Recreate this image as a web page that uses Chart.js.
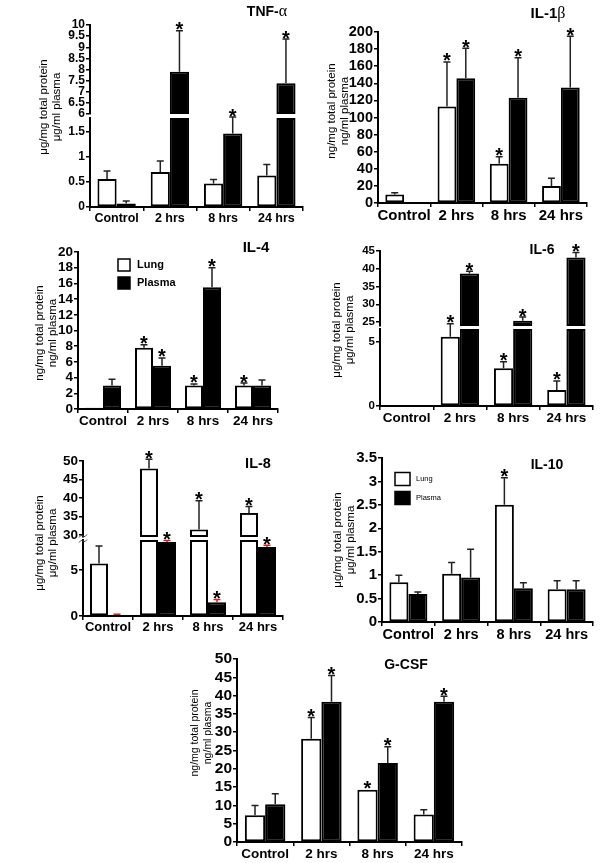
<!DOCTYPE html>
<html>
<head>
<meta charset="utf-8">
<script src="https://cdn.jsdelivr.net/npm/chart.js@4.4.1/dist/chart.umd.min.js"></script>
<style>
  body { margin: 0; background: #fff; }
  #page { position: relative; width: 600px; height: 863px; background: #fff; }
  #page canvas { position: absolute; left: 0; top: 0; }
</style>
</head>
<body>
<div id="page"></div>
<script>
const categories = ['Control', '2 hrs', '8 hrs', '24 hrs'];
const seriesNames = ['Lung', 'Plasma'];

// TNF-alpha (broken axis)
const tnfLung = [0.56, 0.70, 0.47, 0.63];
const tnfLungErr = [0.72, 0.92, 0.55, 0.85];
const tnfPlasma = [0.07, 7.9, 1.47, 7.38];
const tnfPlasmaErr = [0.12, 9.74, 1.8, 9.37];
const tnfLungStar = [0, 0, 0, 0];
const tnfPlasmaStar = [0, 1, 1, 1];
const tnfUpperRange = [6, 10];
const tnfUpperTicks = [6, 6.5, 7, 7.5, 8, 8.5, 9, 9.5, 10];
const tnfLowerRange = [0, 1.78];
const tnfLowerTicks = [0, 0.5, 1, 1.5];

// IL-1beta
const il1Lung = [10, 113, 46, 20];
const il1LungErr = [12, 165, 54, 29];
const il1Plasma = [0, 146, 123, 135];
const il1PlasmaErr = [null, 181, 170, 195];
const il1LungStar = [0, 1, 1, 0];
const il1PlasmaStar = [0, 1, 1, 1];
const il1Range = [0, 200];
const il1Ticks = [0, 20, 40, 60, 80, 100, 120, 140, 160, 180, 200];

// IL-4
const il4Lung = [0.15, 7.8, 3.0, 3.0];
const il4LungErr = [null, 8.2, 3.2, 3.3];
const il4Plasma = [3.0, 5.5, 15.5, 3.0];
const il4PlasmaErr = [3.8, 6.5, 18.0, 3.7];
const il4LungStar = [0, 1, 1, 1];
const il4PlasmaStar = [0, 1, 1, 0];
const il4Range = [0, 20];
const il4Ticks = [0, 2, 4, 6, 8, 10, 12, 14, 16, 18, 20];

// IL-6 (broken axis)
const il6Lung = [0, 5.4, 2.95, 1.25];
const il6LungErr = [null, 6.4, 3.45, 1.95];
const il6Plasma = [0, 38.7, 25.4, 43.2];
const il6PlasmaErr = [null, 39.3, 26.4, 44.6];
const il6LungStar = [0, 1, 1, 1];
const il6PlasmaStar = [0, 1, 1, 1];
const il6UpperRange = [23.9, 45];
const il6UpperTicks = [25, 30, 35, 40, 45];
const il6LowerRange = [0, 6];
const il6LowerTicks = [0, 5];

// IL-8 (broken axis)
const il8Lung = [5.7, 48, 31.5, 36];
const il8LungErr = [7.6, 50.5, 39.3, 37.7];
const il8Plasma = [0.1, 8.05, 1.5, 7.5];
const il8PlasmaErr = [0.2, 8.2, 1.8, 7.7];
const il8LungStar = [0, 1, 1, 1];
const il8PlasmaStar = [0, 1, 1, 1];
const il8UpperRange = [29.5, 50];
const il8UpperTicks = [30, 35, 40, 45, 50];
const il8LowerRange = [0, 8.26];
const il8LowerTicks = [0, 5];

// IL-10
const il10Lung = [0.85, 1.03, 2.5, 0.7];
const il10LungErr = [1.0, 1.27, 3.08, 0.88];
const il10Plasma = [0.6, 0.95, 0.72, 0.7];
const il10PlasmaErr = [0.64, 1.55, 0.84, 0.88];
const il10LungStar = [0, 0, 1, 0];
const il10PlasmaStar = [0, 0, 0, 0];
const il10Range = [0, 3.5];
const il10Ticks = [0, 0.5, 1, 1.5, 2, 2.5, 3, 3.5];

// G-CSF
const gcsfLung = [7.3, 28.2, 14.3, 7.5];
const gcsfLungErr = [10, 34, null, 8.8];
const gcsfPlasma = [10.3, 38.3, 21.6, 38.3];
const gcsfPlasmaErr = [13.2, 45.5, 26, 39.8];
const gcsfLungStar = [0, 1, 1, 0];
const gcsfPlasmaStar = [0, 1, 1, 1];
const gcsfRange = [0, 50];
const gcsfTicks = [0, 5, 10, 15, 20, 25, 30, 35, 40, 45, 50];

const FONT = "'Liberation Sans', Arial, Helvetica, sans-serif";
const SERIF = "'Liberation Serif', 'DejaVu Serif', serif";
const ugLabel = ['\u03bcg/mg total protein', '\u03bcg/ml plasma'];
const ngLabel = ['ng/mg total protein', 'ng/ml plasma'];

const panels = [
  { lung: tnfLung, lungErr: tnfLungErr, plasma: tnfPlasma, plasmaErr: tnfPlasmaErr, lungStar: tnfLungStar, plasmaStar: tnfPlasmaStar,
    segments: [
      { kind: 'upper', range: tnfUpperRange, ticks: tnfUpperTicks, top: 25, bottom: 114 },
      { kind: 'lower', range: tnfLowerRange, ticks: tnfLowerTicks, top: 118, bottom: 207 }
    ],
    axisX: 90, right: 303, tickSize: 12, xSize: 12.5,
    title: [{ text: 'TNF-', font: 'bold 14px ' + FONT }, { text: '\u03b1', font: '16px ' + SERIF }], titleAt: [267, 12],
    ylabel: ugLabel, ylabelAt: [50, 107], ylabelFont: '11.5px ' + FONT },

  { lung: il1Lung, lungErr: il1LungErr, plasma: il1Plasma, plasmaErr: il1PlasmaErr, lungStar: il1LungStar, plasmaStar: il1PlasmaStar,
    segments: [{ kind: 'full', range: il1Range, ticks: il1Ticks, top: 32, bottom: 203 }],
    axisX: 378, right: 587, tickSize: 14.5, xSize: 15,
    title: [{ text: 'IL-1', font: 'bold 15px ' + FONT }, { text: '\u03b2', font: '16px ' + SERIF }], titleAt: [548, 14],
    ylabel: ngLabel, ylabelAt: [338, 111], ylabelFont: '11.5px ' + FONT },

  { lung: il4Lung, lungErr: il4LungErr, plasma: il4Plasma, plasmaErr: il4PlasmaErr, lungStar: il4LungStar, plasmaStar: il4PlasmaStar,
    segments: [{ kind: 'full', range: il4Range, ticks: il4Ticks, top: 252, bottom: 409 }],
    axisX: 78, right: 278, tickSize: 13.5, xSize: 13.5,
    title: [{ text: 'IL-4', font: 'bold 15px ' + FONT }], titleAt: [256, 248],
    ylabel: ngLabel, ylabelAt: [46, 333], ylabelFont: '11.5px ' + FONT,
    legend: { x: 118, y: [265, 283], w: 12, h: 12, gap: 7, font: 'bold 11px ' + FONT } },

  { lung: il6Lung, lungErr: il6LungErr, plasma: il6Plasma, plasmaErr: il6PlasmaErr, lungStar: il6LungStar, plasmaStar: il6PlasmaStar,
    segments: [
      { kind: 'upper', range: il6UpperRange, ticks: il6UpperTicks, top: 251, bottom: 326 },
      { kind: 'lower', range: il6LowerRange, ticks: il6LowerTicks, top: 329, bottom: 406 }
    ],
    axisX: 380, right: 593, tickSize: 11.5, xSize: 13.5,
    title: [{ text: 'IL-6', font: 'bold 14px ' + FONT }], titleAt: [542, 250],
    ylabel: ugLabel, ylabelAt: [343, 330], ylabelFont: '11.5px ' + FONT },

  { lung: il8Lung, lungErr: il8LungErr, plasma: il8Plasma, plasmaErr: il8PlasmaErr, lungStar: il8LungStar, plasmaStar: il8PlasmaStar,
    plasmaErrColor: '#d62020',
    segments: [
      { kind: 'upper', range: il8UpperRange, ticks: il8UpperTicks, top: 461, bottom: 537 },
      { kind: 'lower', range: il8LowerRange, ticks: il8LowerTicks, top: 540, bottom: 616 }
    ],
    axisX: 83, right: 283, tickSize: 13.5, xSize: 13,
    title: [{ text: 'IL-8', font: 'bold 14.5px ' + FONT }], titleAt: [258, 464],
    ylabel: ugLabel, ylabelAt: [46, 543], ylabelFont: '11.5px ' + FONT,
    breakMark: [83, 538.5] },

  { lung: il10Lung, lungErr: il10LungErr, plasma: il10Plasma, plasmaErr: il10PlasmaErr, lungStar: il10LungStar, plasmaStar: il10PlasmaStar,
    segments: [{ kind: 'full', range: il10Range, ticks: il10Ticks, top: 458, bottom: 622 }],
    axisX: 382, right: 593, tickSize: 15, xSize: 14.5,
    title: [{ text: 'IL-10', font: 'bold 14px ' + FONT }], titleAt: [547, 465],
    ylabel: ugLabel, ylabelAt: [344, 540], ylabelFont: '11.5px ' + FONT,
    legend: { x: 395, y: [479, 498], w: 15, h: 13, gap: 6, font: '7.5px ' + FONT } },

  { lung: gcsfLung, lungErr: gcsfLungErr, plasma: gcsfPlasma, plasmaErr: gcsfPlasmaErr, lungStar: gcsfLungStar, plasmaStar: gcsfPlasmaStar,
    segments: [{ kind: 'full', range: gcsfRange, ticks: gcsfTicks, top: 659, bottom: 842 }],
    axisX: 237, right: 462, tickSize: 15.5, xSize: 13.5,
    title: [{ text: 'G-CSF', font: 'bold 14px ' + FONT }], titleAt: [406, 665],
    ylabel: ngLabel, ylabelAt: [202, 733], ylabelFont: '10.5px ' + FONT }
];

// bar values for one axis segment (broken axes are split into two charts)
function segData(vals, seg) {
  return vals.map(v => {
    if (seg.kind === 'upper') return v > seg.range[0] ? [seg.range[0], v] : null;
    if (seg.kind === 'lower') return Math.min(v, seg.range[1]);
    return v;
  });
}

// error whiskers + significance stars
const errorBars = {
  id: 'errorBars',
  afterDatasetsDraw(chart) {
    const ctx = chart.ctx;
    const y = chart.scales.y;
    chart.data.datasets.forEach((ds, i) => {
      chart.getDatasetMeta(i).data.forEach((bar, j) => {
        const v = ds.values[j];
        if (v == null || v < y.min || v > y.max) return;
        let top = y.getPixelForValue(v);
        const e = ds.errors[j];
        ctx.save();
        if (e != null && e > v) {
          const ey = y.getPixelForValue(e);
          ctx.strokeStyle = ds.errColor;
          ctx.lineWidth = 1.5;
          ctx.beginPath();
          ctx.moveTo(bar.x, top);
          ctx.lineTo(bar.x, ey);
          ctx.moveTo(bar.x - 3.5, ey);
          ctx.lineTo(bar.x + 3.5, ey);
          ctx.stroke();
          top = ey;
        }
        if (ds.stars[j]) {
          ctx.fillStyle = '#000';
          ctx.font = 'bold 20px ' + FONT;
          ctx.textAlign = 'center';
          ctx.textBaseline = 'alphabetic';
          ctx.fillText('*', bar.x, top + 5.5);
        }
        ctx.restore();
      });
    });
  }
};

// panel title, y label, legend and axis break mark
function decoPlugin(p) {
  return {
    id: 'deco',
    afterDraw(chart) {
      const ctx = chart.ctx;
      ctx.save();
      ctx.fillStyle = '#000';
      ctx.textBaseline = 'middle';
      ctx.textAlign = 'left';
      let w = 0;
      p.title.forEach(t => { ctx.font = t.font; w += ctx.measureText(t.text).width; });
      let x = p.titleAt[0] - w / 2;
      p.title.forEach(t => {
        ctx.font = t.font;
        ctx.fillText(t.text, x, p.titleAt[1]);
        x += ctx.measureText(t.text).width;
      });

      ctx.save();
      ctx.translate(p.ylabelAt[0], p.ylabelAt[1]);
      ctx.rotate(-Math.PI / 2);
      ctx.textAlign = 'center';
      ctx.font = p.ylabelFont;
      ctx.fillText(p.ylabel[0], 0, -6.5);
      ctx.fillText(p.ylabel[1], 0, 6.5);
      ctx.restore();

      const lg = p.legend;
      if (lg) {
        ctx.font = lg.font;
        ctx.lineWidth = 1.5;
        ctx.textAlign = 'left';
        seriesNames.forEach((name, k) => {
          const cy = lg.y[k];
          ctx.fillStyle = k === 0 ? '#fff' : '#000';
          ctx.fillRect(lg.x, cy - lg.h / 2, lg.w, lg.h);
          ctx.strokeStyle = '#000';
          ctx.strokeRect(lg.x, cy - lg.h / 2, lg.w, lg.h);
          ctx.fillStyle = '#000';
          ctx.fillText(name, lg.x + lg.w + lg.gap, cy);
        });
      }

      if (p.breakMark) {
        const [bx, by] = p.breakMark;
        ctx.strokeStyle = '#444';
        ctx.lineWidth = 1;
        [-2.5, 2.5].forEach(dy => {
          ctx.beginPath();
          ctx.moveTo(bx - 4, by + dy + 1.5);
          ctx.quadraticCurveTo(bx - 2, by + dy - 2, bx, by + dy);
          ctx.quadraticCurveTo(bx + 2, by + dy + 2, bx + 4, by + dy - 1.5);
          ctx.stroke();
        });
      }
      ctx.restore();
    }
  };
}

const page = document.getElementById('page');
const YW = 34, XH = 22;

panels.forEach(p => {
  p.segments.forEach((seg, si) => {
    const last = si === p.segments.length - 1;
    const canvas = document.createElement('canvas');
    canvas.width = 600;
    canvas.height = 863;
    page.appendChild(canvas);

    new Chart(canvas, {
      type: 'bar',
      data: {
        labels: categories,
        datasets: [
          { label: seriesNames[0], data: segData(p.lung, seg), values: p.lung, errors: p.lungErr, stars: p.lungStar,
            errColor: '#222', backgroundColor: '#fff', borderColor: '#000', clip: 0 },
          { label: seriesNames[1], data: segData(p.plasma, seg), values: p.plasma, errors: p.plasmaErr, stars: p.plasmaStar,
            errColor: p.plasmaErrColor || '#222', backgroundColor: '#000', borderColor: '#000', clip: 0 }
        ]
      },
      options: {
        responsive: false,
        animation: false,
        events: [],
        layout: { padding: { left: p.axisX - YW, right: 600 - p.right, top: seg.top, bottom: 863 - seg.bottom - (last ? XH : 0) } },
        datasets: { bar: { borderWidth: 2, borderSkipped: false, categoryPercentage: 0.72, barPercentage: 1 } },
        plugins: { legend: { display: false }, tooltip: { enabled: false } },
        scales: {
          x: {
            display: last,
            offset: true,
            grid: { drawOnChartArea: false, offset: true, tickLength: 4, color: '#000', lineWidth: 1.5 },
            border: { color: '#000', width: 2 },
            ticks: { color: '#000', padding: 0, autoSkip: false, maxRotation: 0, font: { family: FONT, weight: 'bold', size: p.xSize } },
            afterFit: s => { s.height = last ? XH : 0; }
          },
          y: {
            min: seg.range[0],
            max: seg.range[1],
            afterBuildTicks: s => { s.ticks = seg.ticks.map(v => ({ value: v })); },
            grid: { drawOnChartArea: false, tickLength: 4, color: '#000', lineWidth: 1.5 },
            border: { color: '#000', width: 2 },
            ticks: { color: '#000', padding: 1, autoSkip: false, callback: v => String(v), font: { family: FONT, weight: 'bold', size: p.tickSize } },
            afterFit: s => { s.width = YW; }
          }
        }
      },
      plugins: last ? [errorBars, decoPlugin(p)] : [errorBars]
    });
  });
});
</script>
</body>
</html>
